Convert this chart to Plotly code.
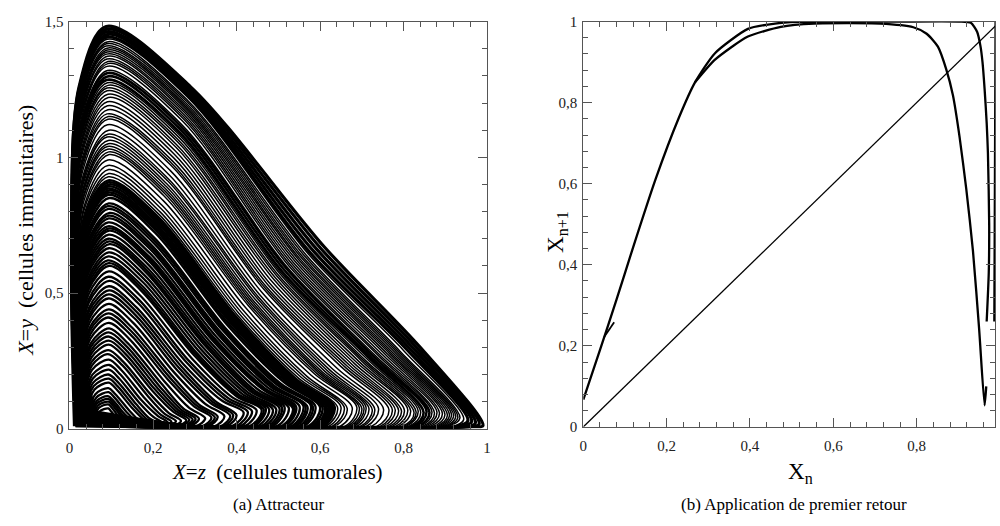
import plotly.graph_objects as go

# ---------------- (a) Attracteur : one entry per loop of the trajectory ----------------
# loop maximum (y) and its abscissa
peak_y = [1.482, 1.472, 1.462, 1.452, 1.442, 1.435, 1.425, 1.418, 1.41, 1.402,
          1.395, 1.388, 1.38, 1.372, 1.362, 1.353, 1.345, 1.335, 1.32, 1.31,
          1.298, 1.285, 1.275, 1.265, 1.255, 1.245, 1.232, 1.22, 1.205, 1.19,
          1.175, 1.16, 1.15, 1.14, 1.12, 1.10, 1.085, 1.075, 1.062, 1.05,
          1.04, 1.03, 1.02, 1.01, 0.99, 0.97, 0.955, 0.94, 0.928, 0.915,
          0.908, 0.90, 0.893, 0.885, 0.878, 0.87, 0.862, 0.85, 0.83, 0.82,
          0.81, 0.795, 0.785, 0.775, 0.76, 0.746, 0.738, 0.73, 0.715, 0.70,
          0.69, 0.68, 0.665, 0.65, 0.635, 0.62, 0.61, 0.60, 0.58, 0.56,
          0.545, 0.525, 0.51, 0.495, 0.48, 0.46, 0.44, 0.425, 0.41, 0.39,
          0.37, 0.355, 0.34, 0.325, 0.31, 0.29, 0.275, 0.255, 0.235, 0.218,
          0.20, 0.185, 0.17, 0.15, 0.135, 0.12, 0.11, 0.10, 0.09, 0.075]
peak_x = [0.088, 0.089, 0.088, 0.090, 0.089, 0.090, 0.090, 0.089, 0.088, 0.090,
          0.091, 0.090, 0.089, 0.091, 0.090, 0.092, 0.092, 0.090, 0.091, 0.090,
          0.091, 0.089, 0.091, 0.092, 0.090, 0.090, 0.092, 0.093, 0.091, 0.091,
          0.092, 0.090, 0.093, 0.092, 0.091, 0.094, 0.092, 0.090, 0.093, 0.093,
          0.091, 0.091, 0.094, 0.095, 0.092, 0.092, 0.094, 0.094, 0.093, 0.093,
          0.094, 0.095, 0.093, 0.092, 0.094, 0.094, 0.093, 0.095, 0.094, 0.092,
          0.093, 0.096, 0.094, 0.094, 0.093, 0.092, 0.095, 0.095, 0.094, 0.093,
          0.095, 0.096, 0.094, 0.094, 0.093, 0.092, 0.094, 0.095, 0.094, 0.093,
          0.095, 0.094, 0.095, 0.094, 0.093, 0.094, 0.094, 0.093, 0.092, 0.094,
          0.095, 0.094, 0.093, 0.094, 0.094, 0.093, 0.092, 0.094, 0.095, 0.094,
          0.093, 0.094, 0.094, 0.093, 0.094, 0.092, 0.093, 0.094, 0.093, 0.093]
# rising branch: abscissa at 85 % and at 45 % of the loop maximum
upleft_x = [0.023, 0.023, 0.024, 0.024, 0.024, 0.024, 0.024, 0.025, 0.025, 0.025,
            0.025, 0.025, 0.026, 0.026, 0.026, 0.026, 0.026, 0.027, 0.027, 0.027,
            0.028, 0.028, 0.028, 0.028, 0.029, 0.029, 0.029, 0.030, 0.030, 0.030,
            0.031, 0.031, 0.031, 0.032, 0.032, 0.033, 0.033, 0.033, 0.033, 0.034,
            0.034, 0.034, 0.035, 0.035, 0.035, 0.036, 0.036, 0.037, 0.037, 0.037,
            0.037, 0.037, 0.038, 0.038, 0.038, 0.038, 0.038, 0.039, 0.039, 0.040,
            0.040, 0.040, 0.040, 0.041, 0.041, 0.041, 0.042, 0.042, 0.042, 0.042,
            0.043, 0.043, 0.043, 0.044, 0.044, 0.044, 0.045, 0.045, 0.045, 0.046,
            0.046, 0.047, 0.047, 0.048, 0.048, 0.048, 0.049, 0.049, 0.050, 0.050,
            0.051, 0.051, 0.052, 0.052, 0.053, 0.053, 0.054, 0.054, 0.055, 0.056,
            0.057, 0.058, 0.060, 0.062, 0.064, 0.065, 0.066, 0.068, 0.070, 0.072]
left_x = [0.005, 0.005, 0.006, 0.006, 0.006, 0.006, 0.007, 0.007, 0.007, 0.007,
          0.007, 0.008, 0.008, 0.008, 0.008, 0.008, 0.009, 0.009, 0.009, 0.010,
          0.010, 0.010, 0.011, 0.011, 0.011, 0.011, 0.012, 0.012, 0.012, 0.013,
          0.013, 0.014, 0.014, 0.014, 0.015, 0.015, 0.016, 0.016, 0.016, 0.017,
          0.017, 0.017, 0.018, 0.018, 0.018, 0.019, 0.019, 0.020, 0.020, 0.020,
          0.020, 0.021, 0.021, 0.021, 0.021, 0.022, 0.022, 0.022, 0.023, 0.023,
          0.023, 0.024, 0.024, 0.024, 0.025, 0.025, 0.025, 0.025, 0.026, 0.026,
          0.026, 0.027, 0.027, 0.027, 0.028, 0.028, 0.028, 0.029, 0.029, 0.030,
          0.030, 0.031, 0.031, 0.032, 0.032, 0.033, 0.033, 0.034, 0.034, 0.035,
          0.035, 0.036, 0.036, 0.037, 0.037, 0.038, 0.039, 0.040, 0.041, 0.042,
          0.044, 0.045, 0.047, 0.050, 0.053, 0.055, 0.058, 0.060, 0.063, 0.066]
# falling branch: abscissa at 85 %, 45 % and 20 % of the loop maximum
shoulder_x = [0.290, 0.289, 0.287, 0.286, 0.285, 0.284, 0.282, 0.281, 0.280, 0.279,
              0.278, 0.277, 0.276, 0.275, 0.274, 0.273, 0.272, 0.270, 0.268, 0.267,
              0.265, 0.263, 0.262, 0.261, 0.259, 0.258, 0.256, 0.255, 0.253, 0.251,
              0.249, 0.247, 0.245, 0.244, 0.241, 0.239, 0.236, 0.235, 0.233, 0.232,
              0.230, 0.229, 0.228, 0.226, 0.224, 0.221, 0.219, 0.217, 0.215, 0.214,
              0.213, 0.212, 0.211, 0.209, 0.208, 0.207, 0.206, 0.205, 0.202, 0.201,
              0.199, 0.197, 0.196, 0.195, 0.193, 0.191, 0.190, 0.189, 0.187, 0.185,
              0.183, 0.182, 0.180, 0.178, 0.176, 0.174, 0.172, 0.171, 0.168, 0.166,
              0.164, 0.161, 0.159, 0.157, 0.155, 0.152, 0.149, 0.147, 0.145, 0.143,
              0.140, 0.138, 0.136, 0.134, 0.132, 0.129, 0.127, 0.124, 0.122, 0.119,
              0.117, 0.115, 0.113, 0.110, 0.108, 0.106, 0.105, 0.104, 0.102, 0.100]
mid_x = [0.612, 0.603, 0.594, 0.585, 0.576, 0.571, 0.566, 0.562, 0.558, 0.555,
         0.551, 0.548, 0.544, 0.540, 0.536, 0.532, 0.528, 0.525, 0.522, 0.520,
         0.515, 0.510, 0.507, 0.505, 0.501, 0.498, 0.494, 0.490, 0.485, 0.480,
         0.476, 0.472, 0.469, 0.466, 0.460, 0.455, 0.451, 0.448, 0.444, 0.440,
         0.437, 0.434, 0.431, 0.428, 0.422, 0.416, 0.411, 0.407, 0.403, 0.400,
         0.397, 0.395, 0.392, 0.390, 0.387, 0.385, 0.381, 0.378, 0.372, 0.369,
         0.366, 0.361, 0.358, 0.355, 0.350, 0.346, 0.343, 0.341, 0.336, 0.332,
         0.328, 0.325, 0.320, 0.315, 0.310, 0.305, 0.302, 0.299, 0.292, 0.285,
         0.280, 0.274, 0.268, 0.263, 0.258, 0.251, 0.244, 0.239, 0.234, 0.227,
         0.220, 0.214, 0.209, 0.204, 0.199, 0.192, 0.186, 0.179, 0.172, 0.166,
         0.160, 0.155, 0.150, 0.143, 0.137, 0.132, 0.128, 0.125, 0.120, 0.116]
low_x = [0.842, 0.834, 0.826, 0.818, 0.810, 0.801, 0.792, 0.788, 0.784, 0.780,
         0.775, 0.771, 0.767, 0.762, 0.757, 0.751, 0.745, 0.741, 0.736, 0.731,
         0.725, 0.720, 0.714, 0.708, 0.704, 0.700, 0.694, 0.688, 0.682, 0.676,
         0.670, 0.664, 0.658, 0.651, 0.640, 0.630, 0.623, 0.617, 0.611, 0.605,
         0.601, 0.597, 0.592, 0.587, 0.578, 0.568, 0.562, 0.556, 0.549, 0.543,
         0.540, 0.538, 0.535, 0.531, 0.528, 0.525, 0.520, 0.515, 0.506, 0.501,
         0.497, 0.490, 0.486, 0.482, 0.475, 0.468, 0.465, 0.462, 0.453, 0.445,
         0.440, 0.435, 0.428, 0.422, 0.415, 0.408, 0.404, 0.400, 0.390, 0.381,
         0.373, 0.364, 0.349, 0.343, 0.337, 0.325, 0.311, 0.305, 0.299, 0.286,
         0.273, 0.267, 0.261, 0.255, 0.249, 0.238, 0.228, 0.219, 0.212, 0.201,
         0.190, 0.184, 0.178, 0.167, 0.160, 0.153, 0.146, 0.140, 0.134, 0.128]
# turning point near the bottom, then foot of the "<" on the bottom line
turn_x = [0.990, 0.981, 0.972, 0.963, 0.954, 0.944, 0.935, 0.930, 0.925, 0.920,
          0.915, 0.910, 0.905, 0.899, 0.893, 0.886, 0.880, 0.874, 0.868, 0.862,
          0.855, 0.848, 0.841, 0.835, 0.830, 0.825, 0.817, 0.810, 0.802, 0.795,
          0.788, 0.780, 0.773, 0.765, 0.752, 0.740, 0.731, 0.725, 0.717, 0.710,
          0.705, 0.700, 0.694, 0.688, 0.677, 0.665, 0.658, 0.650, 0.642, 0.635,
          0.631, 0.628, 0.624, 0.620, 0.616, 0.612, 0.606, 0.600, 0.589, 0.583,
          0.578, 0.570, 0.565, 0.560, 0.551, 0.543, 0.539, 0.535, 0.525, 0.515,
          0.509, 0.503, 0.495, 0.487, 0.478, 0.470, 0.465, 0.460, 0.448, 0.437,
          0.427, 0.417, 0.400, 0.392, 0.385, 0.371, 0.355, 0.348, 0.340, 0.325,
          0.310, 0.302, 0.295, 0.287, 0.280, 0.267, 0.255, 0.244, 0.235, 0.222,
          0.210, 0.202, 0.195, 0.182, 0.173, 0.165, 0.157, 0.150, 0.142, 0.135]
turn_y = [0.012, 0.018, 0.022, 0.026, 0.030, 0.035, 0.040, 0.042, 0.045, 0.048,
          0.050, 0.050, 0.050, 0.052, 0.055, 0.058, 0.060, 0.058, 0.062, 0.060,
          0.065, 0.060, 0.062, 0.065, 0.062, 0.060, 0.066, 0.070, 0.068, 0.065,
          0.068, 0.070, 0.070, 0.070, 0.072, 0.075, 0.072, 0.070, 0.075, 0.080,
          0.078, 0.075, 0.078, 0.080, 0.078, 0.075, 0.078, 0.080, 0.078, 0.080,
          0.078, 0.075, 0.078, 0.080, 0.078, 0.075, 0.078, 0.080, 0.082, 0.080,
          0.085, 0.080, 0.082, 0.085, 0.082, 0.080, 0.078, 0.075, 0.078, 0.080,
          0.078, 0.075, 0.072, 0.070, 0.072, 0.075, 0.072, 0.070, 0.068, 0.065,
          0.062, 0.060, 0.050, 0.050, 0.048, 0.046, 0.044, 0.042, 0.041, 0.039,
          0.037, 0.036, 0.034, 0.033, 0.031, 0.029, 0.028, 0.026, 0.024, 0.022,
          0.020, 0.018, 0.017, 0.015, 0.013, 0.012, 0.011, 0.010, 0.009, 0.008]
foot_x = [0.965, 0.955, 0.945, 0.935, 0.925, 0.915, 0.905, 0.900, 0.895, 0.890,
          0.885, 0.880, 0.875, 0.869, 0.863, 0.856, 0.850, 0.844, 0.838, 0.832,
          0.825, 0.818, 0.811, 0.805, 0.800, 0.795, 0.787, 0.780, 0.772, 0.765,
          0.758, 0.750, 0.743, 0.735, 0.722, 0.710, 0.701, 0.695, 0.687, 0.680,
          0.675, 0.670, 0.664, 0.658, 0.647, 0.635, 0.628, 0.620, 0.612, 0.605,
          0.601, 0.598, 0.594, 0.590, 0.586, 0.582, 0.576, 0.570, 0.559, 0.553,
          0.548, 0.540, 0.535, 0.530, 0.521, 0.513, 0.509, 0.505, 0.495, 0.485,
          0.479, 0.473, 0.465, 0.457, 0.448, 0.440, 0.435, 0.430, 0.418, 0.407,
          0.397, 0.387, 0.375, 0.367, 0.360, 0.346, 0.330, 0.323, 0.315, 0.300,
          0.285, 0.277, 0.270, 0.262, 0.255, 0.243, 0.232, 0.222, 0.212, 0.201,
          0.190, 0.182, 0.175, 0.164, 0.158, 0.148, 0.141, 0.135, 0.128, 0.122]
# bottom-left corner where each loop starts to rise
corner_x = [0.012, 0.015, 0.018, 0.014, 0.020, 0.016, 0.022, 0.018, 0.025, 0.015,
            0.020, 0.024, 0.017, 0.021, 0.026, 0.019, 0.023, 0.018, 0.027, 0.020,
            0.024, 0.019, 0.028, 0.022, 0.025, 0.020, 0.030, 0.024, 0.027, 0.022,
            0.031, 0.025, 0.028, 0.023, 0.032, 0.027, 0.030, 0.025, 0.034, 0.028,
            0.031, 0.036, 0.029, 0.033, 0.038, 0.030, 0.035, 0.040, 0.033, 0.037,
            0.042, 0.035, 0.040, 0.045, 0.038, 0.043, 0.048, 0.040, 0.046, 0.050,
            0.044, 0.049, 0.055, 0.047, 0.052, 0.058, 0.050, 0.055, 0.060, 0.053,
            0.058, 0.062, 0.056, 0.060, 0.065, 0.058, 0.062, 0.055, 0.065, 0.060,
            0.062, 0.058, 0.065, 0.060, 0.062, 0.065, 0.068, 0.064, 0.066, 0.070,
            0.068, 0.065, 0.062, 0.070, 0.072, 0.070, 0.068, 0.072, 0.066, 0.070,
            0.074, 0.072, 0.070, 0.075, 0.078, 0.080, 0.079, 0.078, 0.080, 0.082]
corner_y = [0.010, 0.012, 0.015, 0.012, 0.018, 0.014, 0.020, 0.016, 0.022, 0.014,
            0.018, 0.024, 0.016, 0.020, 0.026, 0.018, 0.022, 0.017, 0.028, 0.020,
            0.024, 0.018, 0.030, 0.022, 0.026, 0.020, 0.032, 0.025, 0.028, 0.022,
            0.034, 0.026, 0.030, 0.024, 0.036, 0.028, 0.032, 0.026, 0.038, 0.030,
            0.034, 0.040, 0.032, 0.036, 0.042, 0.034, 0.038, 0.044, 0.036, 0.040,
            0.046, 0.038, 0.042, 0.048, 0.040, 0.044, 0.050, 0.042, 0.046, 0.052,
            0.044, 0.048, 0.054, 0.046, 0.050, 0.056, 0.048, 0.052, 0.058, 0.050,
            0.055, 0.060, 0.050, 0.050, 0.060, 0.065, 0.045, 0.040, 0.050, 0.055,
            0.045, 0.045, 0.040, 0.040, 0.035, 0.040, 0.045, 0.035, 0.030, 0.035,
            0.040, 0.030, 0.030, 0.035, 0.040, 0.030, 0.030, 0.028, 0.035, 0.028,
            0.025, 0.028, 0.030, 0.025, 0.025, 0.025, 0.023, 0.022, 0.021, 0.020]
FOOT_Y = 0.008
# heights (fraction of the loop maximum) at which the branch abscissas above were read
UPLEFT_F, LEFT_F, SHOULDER_F, MID_F, LOW_F = 0.85, 0.45, 0.85, 0.45, 0.20

# style: stroke width of each loop (bundles of close trajectories drawn thicker)
loop_width = ([3.2] * 5 + [1.5] * 14 + [2.6] * 3 + [1.5] * 27 +
              [2.5] * 9 + [2.3] * 52)

# ---------------- (b) Application de premier retour ----------------
upper_x = [0.0, 0.04, 0.08, 0.117, 0.173, 0.229, 0.268, 0.316, 0.395, 0.46, 0.514, 0.6, 0.75,
           0.902, 0.93, 0.945, 0.953, 0.958, 0.963, 0.968, 0.971, 0.974, 0.973, 0.968]
upper_y = [0.067, 0.19, 0.315, 0.435, 0.61, 0.762, 0.85, 0.922, 0.982, 0.995, 0.999, 1.0, 1.0,
           1.0, 0.997, 0.975, 0.94, 0.9, 0.834, 0.75, 0.675, 0.5, 0.38, 0.26]
lower_x = [0.268, 0.316, 0.395, 0.474, 0.554, 0.712, 0.792, 0.824, 0.851, 0.871, 0.887, 0.903,
           0.919, 0.935, 0.95, 0.963, 0.967]
lower_y = [0.85, 0.906, 0.963, 0.987, 0.995, 0.995, 0.986, 0.97, 0.938, 0.882, 0.818, 0.715,
           0.587, 0.435, 0.24, 0.053, 0.1]
right_x = [0.986, 0.987, 0.988, 0.989]
right_y = [0.26, 0.5, 0.75, 1.0]
spur_x = [0.05, 0.074]
spur_y = [0.222, 0.258]
diag_x = [0.0, 1.0]
diag_y = [0.0, 1.0]

FONT = "Liberation Serif"
AXC = "#555555"

fig = go.Figure()

n = len(peak_y)
for i in range(n):
    h = peak_y[i]
    j = min(i + 1, n - 1)
    xs = [corner_x[i], left_x[i], upleft_x[i], peak_x[i], shoulder_x[i],
          mid_x[i], low_x[i], turn_x[i], foot_x[i], corner_x[j]]
    ys = [corner_y[i], LEFT_F * h, UPLEFT_F * h, h, SHOULDER_F * h,
          MID_F * h, LOW_F * h, turn_y[i], FOOT_Y, corner_y[j]]
    fig.add_trace(go.Scatter(x=xs, y=ys, mode="lines", xaxis="x", yaxis="y",
                             line=dict(color="black", width=loop_width[i], shape="spline",
                                       smoothing=0.9),
                             hoverinfo="skip", showlegend=False))

for xs, ys, w in [(upper_x, upper_y, 2.3), (lower_x, lower_y, 2.3),
                  (right_x, right_y, 2.0), (spur_x, spur_y, 1.8)]:
    fig.add_trace(go.Scatter(x=xs, y=ys, mode="lines", xaxis="x2", yaxis="y2",
                             line=dict(color="black", width=w, shape="spline", smoothing=0.6),
                             hoverinfo="skip", showlegend=False))
fig.add_trace(go.Scatter(x=diag_x, y=diag_y, mode="lines", xaxis="x2", yaxis="y2",
                         line=dict(color="black", width=1.3), hoverinfo="skip", showlegend=False))


def axis(rng, dtick, mdtick, domain, anchor, standoff):
    return dict(range=rng, domain=domain, anchor=anchor, tick0=0, dtick=dtick,
                ticks="inside", ticklen=9, tickwidth=1, tickcolor=AXC,
                minor=dict(dtick=mdtick, ticks="inside", ticklen=5, tickwidth=1, tickcolor=AXC),
                showline=True, linecolor=AXC, linewidth=1, mirror="allticks",
                showgrid=False, zeroline=False, ticklabelstandoff=standoff,
                tickfont=dict(family=FONT, size=15, color="#222222"))


fig.update_layout(
    width=1000, height=526,
    margin=dict(l=0, r=0, t=0, b=0),
    paper_bgcolor="white", plot_bgcolor="white",
    separators=", ",
    xaxis=axis([0, 1], 0.2, 0.04, [0.066, 0.487], "y", 5),
    yaxis=axis([0, 1.5], 0.5, 0.1, [0.1749, 0.9734], "x", 2),
    xaxis2=axis([0, 0.988], 0.2, 0.04, [0.584, 0.999], "y2", 5),
    yaxis2=axis([0, 1], 0.2, 0.04, [0.1787, 0.9734], "x2", 2),
)

ann = [
    dict(x=0.276, y=0.091, text="<i>X</i>=<i>z</i>  (cellules tumorales)", size=21, angle=0),
    dict(x=0.022, y=0.565, text="<i>X</i>=<i>y</i>  (cellules immunitaires)", size=22, angle=-90),
    dict(x=0.803, y=0.088, text="X<sub>n</sub>", size=23, angle=0),
    dict(x=0.558, y=0.56, text="X<sub>n+1</sub>", size=23, angle=-90),
    dict(x=0.277, y=0.026, text="(a) Attracteur", size=17, angle=0),
    dict(x=0.796, y=0.026, text="(b) Application de premier retour", size=17, angle=0),
]
for a in ann:
    fig.add_annotation(x=a["x"], y=a["y"], xref="paper", yref="paper", text=a["text"],
                       showarrow=False, textangle=a["angle"], xanchor="center", yanchor="middle",
                       font=dict(family=FONT, size=a["size"], color="black"))

fig.write_html("out.html")
